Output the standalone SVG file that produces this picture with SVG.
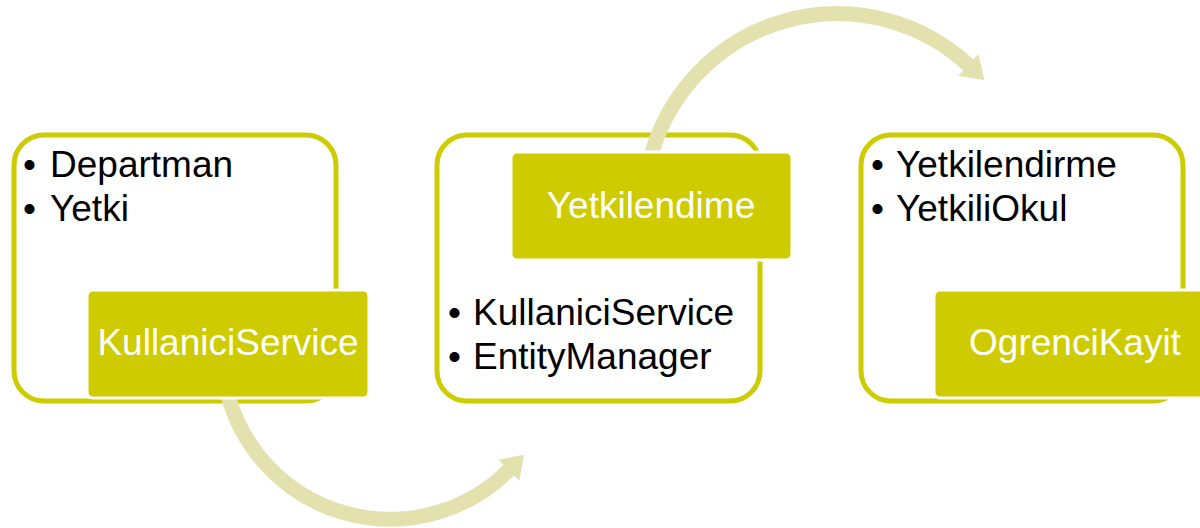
<svg xmlns="http://www.w3.org/2000/svg" width="1200" height="528" viewBox="0 0 1200 528">
<style>
.outer{fill:#fff;stroke:#CCCC00;stroke-width:5}
.inner{fill:#CECC00;stroke:#fff;stroke-width:3}
.arc{fill:none;stroke:#E3E2AE;stroke-width:15}
.t{font-family:"Liberation Sans",Arial,sans-serif;font-size:37px;fill:#000}
.w{font-family:"Liberation Sans",Arial,sans-serif;font-size:37px;fill:#fff;text-anchor:middle}
</style>
<defs>
<marker id="ah" markerUnits="userSpaceOnUse" viewBox="0 0 22 30" markerWidth="22" markerHeight="30" refX="0.5" refY="15" orient="auto">
<path d="M0,0 L22,15 L0,30 Z" fill="#E3E2AE"/>
</marker>
</defs>
<rect width="1200" height="528" fill="#fff"/>
<g id="outer-boxes">
<rect id="box1-outer" class="outer" x="14" y="135" width="322" height="266" rx="30"/>
<rect id="box2-outer" class="outer" x="437" y="135" width="323" height="266" rx="30"/>
<rect id="box3-outer" class="outer" x="861" y="135" width="322" height="266" rx="30"/>
</g>
<g id="connectors">
<path class="arc" d="M228,395 A168,168 0 0 0 509,470" marker-end="url(#ah)"/>
<path class="arc" d="M650,160 A193,193 0 0 1 968.6,65.3" marker-end="url(#ah)"/>
</g>
<g id="node-kullanici">
<text class="t" x="23" y="177">•</text><text class="t" x="50" y="177">Departman</text>
<text class="t" x="23" y="221">•</text><text class="t" x="50" y="221">Yetki</text>
<rect class="inner" x="87" y="290" width="282" height="108" rx="6"/>
<text class="w" x="228" y="355">KullaniciService</text>
</g>
<g id="node-yetkilendime">
<rect class="inner" x="511" y="152" width="281" height="108" rx="6"/>
<text class="w" x="651" y="218">Yetkilendime</text>
<text class="t" x="448" y="325">•</text><text class="t" x="473" y="325">KullaniciService</text>
<text class="t" x="448" y="369">•</text><text class="t" x="473" y="369">EntityManager</text>
</g>
<g id="node-ogrenci">
<text class="t" x="871" y="177">•</text><text class="t" x="896" y="177">Yetkilendirme</text>
<text class="t" x="871" y="221">•</text><text class="t" x="896" y="221">YetkiliOkul</text>
<rect class="inner" x="934" y="290" width="282" height="108" rx="6"/>
<text class="w" x="1075" y="355">OgrenciKayit</text>
</g>
</svg>
